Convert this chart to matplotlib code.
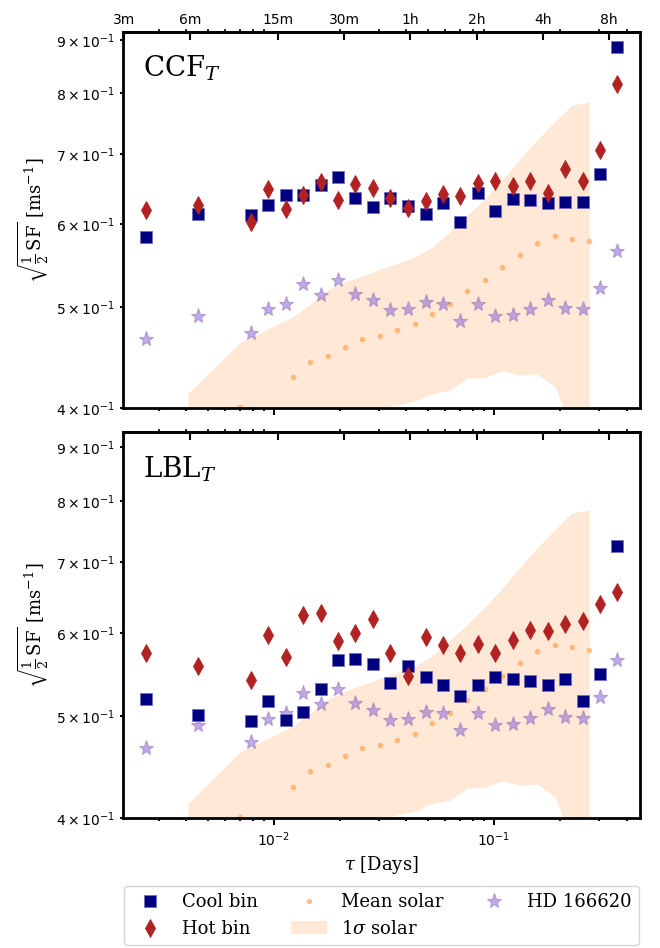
#Structure function plot of the CCF and LBL radial velocities, compared with the Sun and HD 166620.

#Import numeric python library
import numpy as np

#import the Python plotting tool
import matplotlib
matplotlib.use('Agg')
from matplotlib import pyplot as plt


#Time lags of the stellar bins in days
stellar_tau = [0.00262, 0.00452, 0.00786, 0.00939, 0.01134, 0.01355, 0.01636, 0.01955,
               0.02335, 0.02818, 0.03365, 0.04064, 0.04909, 0.05864, 0.07003, 0.08455,
               0.1011, 0.1219, 0.1459, 0.1760, 0.2104, 0.2541, 0.3034, 0.3622]

#CCF structure function, cool and hot bins
ccf_cool = [0.583, 0.614, 0.612, 0.626, 0.639, 0.640, 0.654, 0.665, 0.636, 0.623, 0.636, 0.625,
            0.614, 0.628, 0.603, 0.643, 0.618, 0.634, 0.633, 0.629, 0.630, 0.630, 0.670, 0.886]
ccf_hot = [0.619, 0.626, 0.603, 0.648, 0.620, 0.639, 0.658, 0.633, 0.655, 0.649, 0.636, 0.621,
           0.631, 0.641, 0.638, 0.657, 0.659, 0.652, 0.659, 0.643, 0.677, 0.660, 0.707, 0.817]

#LBL structure function, cool and hot bins
lbl_cool = [0.519, 0.501, 0.495, 0.517, 0.496, 0.505, 0.531, 0.565, 0.567, 0.560, 0.538, 0.558,
            0.545, 0.535, 0.523, 0.535, 0.545, 0.542, 0.540, 0.535, 0.542, 0.517, 0.548, 0.726]
lbl_hot = [0.574, 0.558, 0.541, 0.597, 0.569, 0.624, 0.626, 0.589, 0.599, 0.618, 0.574, 0.546,
           0.595, 0.584, 0.574, 0.586, 0.574, 0.591, 0.604, 0.602, 0.612, 0.616, 0.639, 0.656]

#Reference star HD 166620
hd_sf = [0.466, 0.490, 0.472, 0.497, 0.503, 0.526, 0.513, 0.530, 0.514, 0.507, 0.496, 0.497,
         0.505, 0.503, 0.485, 0.503, 0.490, 0.491, 0.498, 0.508, 0.499, 0.498, 0.521, 0.565]

#Solar time lags, mean and 1 sigma envelope
solar_tau = [0.00407, 0.00701, 0.01220, 0.01459, 0.01760, 0.02104, 0.02512, 0.03033, 0.03622, 0.04375,
             0.05224, 0.0631, 0.0754, 0.0910, 0.1088, 0.1313, 0.1568, 0.1893, 0.2263, 0.2704]
solar_mean = [0.376, 0.401, 0.428, 0.443, 0.449, 0.458, 0.466, 0.469, 0.475, 0.481,
              0.492, 0.503, 0.518, 0.530, 0.546, 0.561, 0.576, 0.584, 0.581, 0.578]
solar_upper = [0.413, 0.462, 0.489, 0.503, 0.519, 0.528, 0.535, 0.543, 0.550, 0.558,
               0.570, 0.590, 0.611, 0.635, 0.661, 0.693, 0.722, 0.752, 0.780, 0.785]
solar_lower = [0.33, 0.34, 0.35, 0.355, 0.36, 0.37, 0.38, 0.398, 0.403, 0.406,
               0.413, 0.416, 0.427, 0.428, 0.434, 0.430, 0.431, 0.419, 0.38, 0.37]

#Top axis labels, given in minutes
top_minutes = [3, 6, 15, 30, 60, 120, 240, 480]
top_labels = ['3m', '6m', '15m', '30m', '1h', '2h', '4h', '8h']


#Serif maths, sans tick labels
plt.rcParams['mathtext.fontset'] = 'dejavuserif'
plt.rcParams['axes.linewidth'] = 2


#Function to draw one structure function panel
def SFPanel(ax, cool, hot, name, ylim, show_top):

    #1 sigma solar envelope
    ax.fill_between(solar_tau, solar_lower, solar_upper, color='peachpuff', alpha=0.6,
                    lw=0, label=r'1$\sigma$ solar')

    #Mean solar points
    ax.plot(solar_tau, solar_mean, 'o', color='#ff9a3c', alpha=0.6, ms=4, mew=0, label='Mean solar')

    #HD 166620 stars
    ax.plot(stellar_tau, hd_sf, '*', color='mediumpurple', mec='#9a7ab8', alpha=0.6, ms=11, mew=0.8,
            label='HD 166620')

    #Cool and hot bins
    ax.plot(stellar_tau, cool, 's', color='navy', mec='#7070c0', mew=0.6, ms=8.5, label='Cool bin')
    ax.plot(stellar_tau, hot, 'd', color='firebrick', mec='firebrick', mew=0.6, ms=9, label='Hot bin')

    #Log axes
    ax.set_xscale('log')
    ax.set_yscale('log')
    ax.set_xlim(0.00206, 0.461)
    ax.set_ylim(ylim)

    #y label
    ax.set_ylabel(r'$\sqrt{\frac{1}{2}\,\mathrm{SF}}$ [ms$^{-1}$]', family='serif', fontsize=13)

    #Panel name
    ax.text(0.04, 0.905, name, transform=ax.transAxes, family='serif', fontsize=20, va='center')

    #Tick styles
    ax.tick_params(axis='both', which='both', labelsize=10, width=1.5)
    ax.tick_params(axis='both', which='major', length=5)

    #Secondary axis on top with time in minutes and hours
    sec = ax.secondary_xaxis('top')
    sec.set_xticks([m/1440.0 for m in top_minutes])
    sec.set_xticklabels(top_labels)
    sec.tick_params(axis='x', which='major', direction='in', length=6, width=1.5, labelsize=10)
    sec.tick_params(axis='x', which='minor', width=1.2)
    if not show_top:
        sec.tick_params(axis='x', labeltop=False)

    return;


#Open up a figure
fig = plt.figure(figsize=(6.6, 9.48), dpi=100)

#Top panel for the CCF
ax1 = fig.add_axes([0.186, 0.5696, 0.784, 0.3966])
SFPanel(ax1, ccf_cool, ccf_hot, r'CCF$_T$', (0.4, 0.916), True)
ax1.tick_params(axis='x', labelbottom=False)

#Bottom panel for the LBL
ax2 = fig.add_axes([0.186, 0.137, 0.784, 0.407], sharex=ax1)
SFPanel(ax2, lbl_cool, lbl_hot, r'LBL$_T$', (0.4, 0.93), False)
ax2.set_xlabel(r'$\tau$ [Days]', family='serif', fontsize=13)

#Legend below both panels
h, l = ax1.get_legend_handles_labels()
order = [3, 4, 1, 0, 2]
fig.legend([h[i] for i in order], [l[i] for i in order], loc='lower center',
           bbox_to_anchor=(0.578, 0.0), borderaxespad=0.15, columnspacing=1.8,
           ncol=3, prop={'family': 'serif', 'size': 13})

#Save the figure
fig.savefig('out.png', dpi=100)
